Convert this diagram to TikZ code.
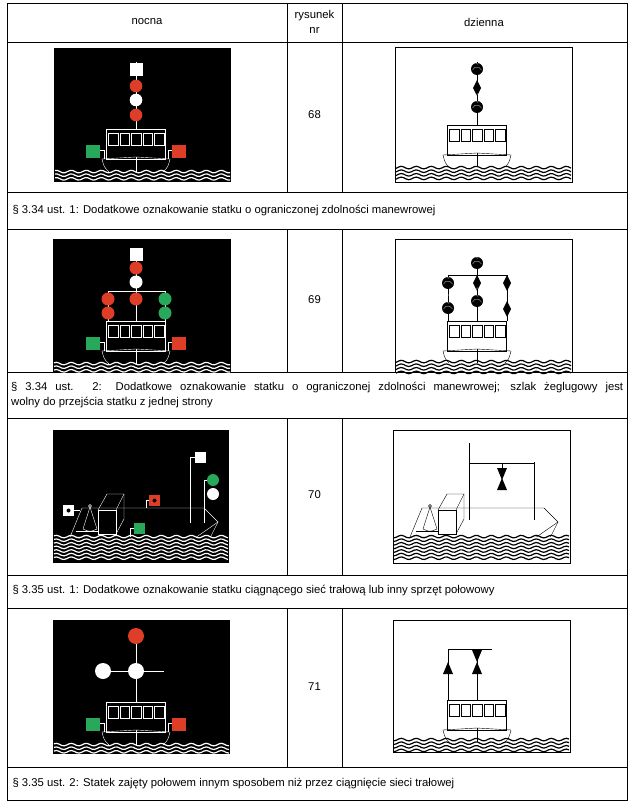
\documentclass[tikz,border=0pt]{standalone}
\usepackage{fontspec}
\setmainfont{Liberation Sans}
\definecolor{lred}{RGB}{222,62,40}
\definecolor{lgreen}{RGB}{40,168,90}

% front view of the ship: #1 centre x, #2 top of house, #3 colour
\newcommand{\frontship}[3]{%
  \draw[#3] (#1-29.5,#2) rectangle (#1+29.5,#2+30);
  \foreach \i in {-2,...,2}
    \draw[#3] (#1+\i*11.5-4.8,#2+4) rectangle +(9.6,12);
  \draw[#3] (#1-34,#2+30) -- (#1,#2+28) -- (#1+34,#2+30);
  \draw[#3] (#1-34,#2+30) .. controls (#1-32,#2+38) .. (#1-27,#2+43);
  \draw[#3] (#1+34,#2+30) .. controls (#1+32,#2+38) .. (#1+27,#2+43);
  \draw[#3] (#1,#2+28) -- (#1,#2+43);
}
% side lights: #1 centre x, #2 top of house
\newcommand{\sidelights}[2]{%
  \draw[white] (#1-36,#2+21) -- (#1-32,#2+21) -- (#1-32,#2+30);
  \draw[white] (#1+36,#2+21) -- (#1+32,#2+21) -- (#1+32,#2+30);
  \fill[lgreen] (#1-50,#2+16) rectangle +(14,13);
  \fill[lred] (#1+36,#2+16) rectangle +(14,13);
}
% waves: #1 x from, #2 x to, #3 y top, #4 number, #5 colour
\newcommand{\waves}[5]{%
  \foreach \k in {1,...,#4}
    \draw[#5,line width=1.2pt] plot[variable=\t,domain=#1+1:#2-1,samples=70]
      (\t,{#3+\k*3.6-1+1.3*sin(24*\t)});
}
% side view of the ship: #1 x shift, #2 colour
\newcommand{\sideship}[2]{%
  \draw[#2] (#1+410,537) -- (#1+422,508) -- (#1+544,508) -- (#1+558,522) -- (#1+535,538) -- cycle;
  \draw[#2] (#1+558,522) -- (#1+546,546);
  \draw[#2] (#1+438,510) rectangle (#1+456,534);
  \draw[#2] (#1+438,510) -- (#1+447,494) -- (#1+464,494) -- (#1+456,510);
  \draw[#2] (#1+464,494) -- (#1+464,519) -- (#1+456,534);
  \draw[#2] (#1+423,529) -- (#1+430,507) -- (#1+437,529) .. controls (#1+430,532) .. (#1+423,529);
  \draw[#2] (#1+430,506) circle (1.5);
  \draw[#2] (#1+416,531) -- (#1+438,531);
}
\newcommand{\ball}[2]{%
  \fill[black] (#1,#2) circle (6);
  \draw[white,very thin] (#1-4.5,#2+1) arc (200:340:4.8) (#1+1,#2-4.5) arc (110:250:4.8);
}
\newcommand{\rhomb}[2]{\fill[black] (#1,#2-8) -- (#1+4,#2) -- (#1,#2+8) -- (#1-4,#2) -- cycle;}
\newcommand{\conup}[2]{\fill[black] (#1,#2-6) -- (#1+5,#2+6) -- (#1-5,#2+6) -- cycle;}
\newcommand{\condown}[2]{\fill[black] (#1,#2+6) -- (#1+5,#2-6) -- (#1-5,#2-6) -- cycle;}

\begin{document}
\begin{tikzpicture}[x=1pt,y=-1pt,font=\fontsize{11.3}{15.5}\selectfont]
\useasboundingbox (0,0) rectangle (629,805);

% table
\draw[thin] (7,3) rectangle (627,800);
\foreach \y in {42,192,229,372,418,575,608,767}
  \draw[thin] (7,\y) -- (627,\y);
\foreach \a/\b in {3/192,229/372,418/575,608/767}
  \draw[thin] (287,\a) -- (287,\b) (342,\a) -- (342,\b);

\node (nocna) at (147,22) {nocna};
\node[align=center,inner sep=0pt] (rysunek) at (314.5,22) {rysunek\\nr};
\node (dzienna) at (484,22) {dzienna};
\foreach \n/\y in {68/115,69/300,70/495,71/687}
  \node (nr\n) at (314.5,\y) {\n};

\node[anchor=west] (opis68) at (9,211) {§ 3.34 ust. 1: Dodatkowe oznakowanie statku o ograniczonej zdolności manewrowej};
\node[anchor=west,text width=612pt,align=justify,inner sep=2pt] (opis69) at (9,395) {§ 3.34 ust. 2: Dodatkowe oznakowanie statku o ograniczonej zdolności manewrowej; szlak żeglugowy jest\linebreak wolny do przejścia statku z jednej strony};
\node[anchor=west] (opis70) at (9,591) {§ 3.35 ust. 1: Dodatkowe oznakowanie statku ciągnącego sieć trałową lub inny sprzęt połowowy};
\node[anchor=west] (opis71) at (9,784) {§ 3.35 ust. 2: Statek zajęty połowem innym sposobem niż przez ciągnięcie sieci trałowej};

%68 night
\fill[black] (54,48) rectangle (231,182);
\draw[white] (136,62) -- (136,129);
\frontship{136}{129}{white}
\sidelights{136}{129}
\fill[white] (130,63) rectangle (143,76);
\foreach \y/\c in {86/lred,100/white,115/lred}
  \fill[\c] (136,\y) circle (6.3);
\waves{54}{231}{169}{3}{white}

%68 day
\draw (395,47) rectangle (572,182);
\draw (477,62) -- (477,125);
\frontship{477}{125}{black}
\ball{477}{69} \rhomb{477}{88} \ball{477}{107}
\fill[white] (396,167) rectangle (571,181);
\waves{395}{572}{165}{4}{black}

%69 night
\fill[black] (53,239) rectangle (231,372);
\draw[white] (136,248) -- (136,321) (108,291) -- (165,291) (108,291) -- (108,321) (165,291) -- (165,321);
\frontship{136}{321}{white}
\sidelights{136}{321}
\fill[white] (130,248) rectangle (143,261);
\foreach \x/\y/\c in {136/268/lred,136/282/white,108/299/lred,108/313/lred,136/299/lred,165/299/lgreen,165/313/lgreen}
  \fill[\c] (\x,\y) circle (6.5);
\waves{53}{231}{361}{3}{white}

%69 day
\draw (395,239) rectangle (572,372);
\draw (477,257) -- (477,321) (448,275) -- (507,275) (448,275) -- (448,321) (507,275) -- (507,321);
\frontship{477}{321}{black}
\ball{477}{263} \ball{448}{283} \ball{448}{308}
\rhomb{477}{283} \ball{477}{301} \rhomb{507}{283} \rhomb{507}{309}
\fill[white] (396,363) rectangle (571,371);
\waves{395}{572}{359}{4}{black}

%70 night
\fill[black] (53,430) rectangle (229,563);
\sideship{-340}{white}
\draw[white] (190,523) -- (190,457) -- (195,457);
\draw[white] (204,523) -- (204,480) -- (208,480);
\fill[white] (195,452) rectangle (206,463);
\fill[lgreen] (213,480) circle (6);
\fill[white] (213,494) circle (6);
\draw[white] (146,508) -- (146,500) -- (149,500);
\fill[lred] (149,495) rectangle (160,506);
\fill[black] (154.5,500.5) circle (2);
\draw[white] (130,538) -- (130,528) -- (134,528);
\fill[lgreen] (134,523) rectangle (145,534);
\draw[white] (74,510) -- (80,510);
\fill[white] (63,505) rectangle (74,516);
\fill[black] (68.5,510.5) circle (2);
\fill[black] (54,537) rectangle (228,562);
\waves{53}{229}{534}{7}{white}

%70 day
\draw (393,430) rectangle (570,563);
\sideship{0}{black}
\draw (469,443) -- (469,520) (534,462) -- (534,520) (469,463) -- (534,463) (502,463) -- (502,468);
\condown{502}{474} \conup{502}{484}
\fill[white] (394,537) rectangle (569,562);
\waves{393}{570}{534}{7}{black}

%71 night
\fill[black] (53,620) rectangle (230,754);
\draw[white] (136,636) -- (136,702) (103,671) -- (164,671);
\frontship{136}{702}{white}
\sidelights{136}{702}
\fill[lred] (136,636) circle (8);
\fill[white] (103,671) circle (8) (136,671) circle (8);
\waves{53}{230}{742}{3}{white}

%71 day
\draw (393,620) rectangle (570,752);
\draw (477,649) -- (477,700) (448,649) -- (492,649) (448,649) -- (448,700);
\frontship{477}{700}{black}
\conup{448}{668} \condown{477}{656} \conup{477}{668}
\fill[white] (394,742) rectangle (569,751);
\waves{393}{570}{737}{4}{black}
\end{tikzpicture}
\end{document}
